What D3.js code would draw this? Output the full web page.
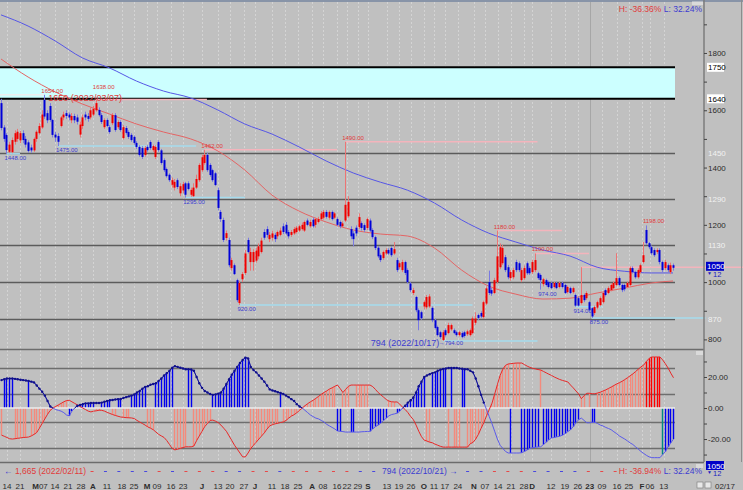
<!DOCTYPE html>
<html>
<head>
<meta charset="utf-8">
<script src="https://cdn.jsdelivr.net/npm/d3@7"></script>
<style>
  body { margin: 0; background: #c0c0c0; }
  svg { display: block; }
  text { font-family: "Liberation Sans", Arial, sans-serif; }
</style>
</head>
<body>
<div id="chart-area"></div>
<script>
// daily bars 2022/02/09 - 2023/02/17 : [open, high, low, close]
const candles = [
  [1625,1640,1530,1538],[1540,1548,1490,1500],[1514,1520,1448,1461],[1455,1490,1450,1480],[1454,1505,1450,1496],
  [1490,1530,1480,1520],[1500,1535,1490,1525],[1495,1528,1485,1520],[1520,1530,1485,1496],[1500,1510,1470,1480],
  [1488,1495,1452,1458],[1470,1480,1452,1460],[1460,1505,1455,1500],[1500,1530,1490,1525],[1520,1555,1515,1545],
  [1540,1600,1535,1585],[1636,1654,1570,1578],[1590,1600,1555,1565],[1615,1625,1560,1566],[1566,1570,1505,1514],
  [1515,1525,1490,1505],[1510,1520,1475,1490],[1545,1580,1540,1575],[1575,1595,1565,1585],[1590,1600,1570,1580],
  [1585,1592,1565,1575],[1565,1590,1555,1580],[1580,1588,1555,1565],[1575,1585,1550,1560],[1515,1560,1505,1550],
  [1545,1585,1535,1575],[1585,1595,1565,1575],[1580,1590,1560,1570],[1575,1610,1568,1600],[1585,1615,1580,1605],
  [1600,1638,1595,1625],[1601,1610,1578,1583],[1583,1590,1552,1559],[1541,1572,1535,1566],[1566,1572,1540,1545],
  [1541,1548,1518,1524],[1555,1590,1548,1583],[1583,1590,1525,1531],[1541,1565,1535,1559],[1559,1565,1525,1531],
  [1503,1548,1498,1541],[1538,1545,1515,1521],[1524,1530,1500,1507],[1514,1520,1490,1496],[1507,1512,1480,1486],
  [1486,1492,1465,1472],[1472,1478,1438,1444],[1468,1475,1430,1437],[1444,1475,1438,1468],[1472,1478,1455,1461],
  [1489,1495,1462,1468],[1461,1480,1455,1475],[1437,1478,1430,1472],[1489,1495,1455,1461],[1460,1465,1410,1416],
  [1426,1432,1385,1391],[1395,1400,1365,1370],[1375,1380,1350,1356],[1340,1365,1330,1356],[1330,1360,1320,1350],
  [1356,1362,1325,1332],[1310,1345,1300,1335],[1320,1350,1310,1342],[1345,1350,1295,1305],[1345,1352,1320,1325],
  [1305,1330,1298,1322],[1300,1345,1298,1330],[1330,1375,1325,1360],[1356,1415,1350,1409],[1391,1445,1385,1436],
  [1416,1462,1410,1444],[1444,1452,1385,1391],[1409,1415,1368,1374],[1391,1396,1350,1356],[1380,1385,1335,1339],
  [1321,1330,1250,1259],[1245,1252,1210,1220],[1217,1225,1140,1147],[1154,1180,1145,1171],[1147,1155,1052,1059],
  [1049,1085,1040,1077],[1059,1065,1025,1028],[1007,1012,930,937],[927,1005,920,997],[1010,1035,1000,1028],
  [1032,1112,1025,1100],[1147,1155,1100,1105],[1070,1120,1040,1105],[1070,1115,1040,1105],[1075,1120,1068,1110],
  [1090,1135,1080,1125],[1105,1155,1100,1145],[1175,1185,1148,1155],[1185,1195,1155,1165],[1150,1175,1140,1165],
  [1155,1180,1145,1170],[1165,1172,1140,1150],[1160,1180,1150,1175],[1165,1190,1160,1180],[1195,1205,1168,1175],
  [1200,1210,1165,1170],[1175,1182,1152,1160],[1165,1182,1158,1175],[1170,1192,1165,1185],[1175,1196,1170,1190],
  [1180,1200,1175,1195],[1185,1208,1180,1200],[1180,1215,1175,1210],[1215,1222,1195,1200],[1195,1218,1190,1210],
  [1218,1225,1190,1195],[1200,1225,1190,1220],[1210,1228,1205,1220],[1220,1248,1215,1240],[1225,1252,1218,1245],
  [1245,1252,1222,1228],[1225,1250,1218,1245],[1245,1250,1215,1220],[1225,1245,1220,1240],[1220,1226,1195,1200],
  [1210,1215,1188,1195],[1195,1212,1190,1205],[1215,1490,1210,1270],[1230,1300,1225,1280],[1185,1195,1150,1160],
  [1170,1178,1125,1150],[1190,1198,1160,1170],[1192,1240,1185,1227],[1206,1212,1180,1189],[1199,1205,1175,1182],
  [1189,1225,1182,1220],[1215,1222,1175,1180],[1182,1188,1150,1157],[1157,1162,1112,1119],[1120,1126,1084,1090],
  [1094,1100,1070,1077],[1084,1110,1078,1105],[1100,1118,1095,1112],[1112,1118,1095,1100],[1119,1125,1088,1094],
  [1100,1140,1095,1115],[1077,1085,1035,1042],[1052,1072,1045,1066],[1042,1078,1035,1070],[1070,1075,1025,1032],
  [1042,1048,995,1000],[995,1000,965,972],[962,980,955,972],[948,952,895,902],[902,908,832,867],
  [895,900,868,874],[915,935,905,930],[912,955,905,948],[915,958,910,950],[910,915,860,867],
  [867,872,835,840],[843,848,810,815],[825,830,802,808],[798,832,794,825],[832,838,810,815],
  [822,858,818,850],[835,855,830,850],[832,838,818,822],[825,830,810,815],[815,830,810,825],
  [822,828,804,808],[825,830,806,812],[818,834,812,828],[815,838,810,832],[822,880,818,873],
  [858,895,850,873],[885,890,868,875],[892,898,875,880],[878,935,872,930],[925,985,920,978],
  [1000,1040,955,962],[972,980,952,960],[962,1015,958,1007],[1000,1180,995,1090],[1052,1135,1045,1122],
  [1066,1130,1060,1119],[1087,1095,1035,1042],[1052,1060,1010,1017],[1014,1042,1005,1035],[1017,1050,1010,1042],
  [1070,1078,1035,1042],[1066,1072,1035,1042],[1007,1050,1000,1042],[1014,1058,1008,1049],[1066,1072,1025,1031],
  [1049,1055,1025,1031],[1035,1078,1028,1070],[1042,1100,1035,1077],[1031,1036,1008,1014],[1025,1030,974,1007],
  [993,1015,985,1010],[1007,1012,985,990],[1000,1005,978,983],[997,1002,975,979],[983,1002,978,997],
  [997,1002,975,979],[983,1002,978,997],[997,1002,978,983],[990,995,958,962],[965,988,960,983],
  [979,984,958,962],[965,984,960,979],[955,960,914,918],[944,950,915,918],[927,1052,922,955],
  [955,960,930,937],[944,968,938,962],[930,935,898,902],[909,912,875,880],[892,918,885,913],
  [911,935,905,930],[920,950,915,944],[930,968,925,962],[972,978,950,955],[962,985,958,979],
  [972,995,968,990],[979,1002,975,997],[990,1101,985,1014],[1014,1020,985,990],[990,995,965,972],
  [990,995,968,975],[983,1002,978,997],[990,1055,985,1049],[1049,1055,1030,1035],[1035,1040,1012,1017],
  [1017,1048,1012,1042],[1035,1065,1030,1059],[1070,1140,1065,1094],[1182,1198,1130,1136],[1136,1140,1115,1122],
  [1122,1128,1095,1101],[1112,1118,1088,1094],[1105,1118,1098,1112],[1112,1118,1062,1070],[1070,1075,1035,1042],
  [1049,1078,1042,1070],[1059,1065,1035,1042],[1035,1068,1028,1059],[1059,1065,1040,1050]
];

// moving averages read every 10 bars
const maIdx = [0,10,20,30,40,50,60,70,80,90,100,110,120,130,140,150,160,170,180,190,200,210,220,230,240,248];
const redMA = [1779,1716,1664,1622,1587,1552,1524,1500,1458,1391,1304,1248,1210,1182,1168,1161,1119,1042,986,958,941,944,962,979,997,1004];
const blueMA = [1933,1894,1842,1783,1748,1702,1667,1643,1601,1552,1517,1472,1423,1381,1349,1321,1276,1217,1171,1140,1112,1091,1052,1038,1032,1032];

// lower panel oscillator
const oscBlue = [
  18,18.5,19,19,19,18.8,18.5,18.2,18,17.7,
  17.4,17,16.5,14.5,12.5,10.5,8,4.5,1,0,
  -1,-1.5,-2,-3,-4.5,-5,-2,0,1.5,2,
  2.5,3,3,3.2,3.2,3.2,3.2,3.5,4,4.5,
  5,5.2,5.5,5.7,5.8,6.5,7,7.5,8,8.7,
  10,11,12.5,13.5,14,15,15.5,16,17.5,19,
  21,22.5,24,26,27,26.5,26,25.5,25,25,
  24.8,24,20,16,13,11,10,9,8.5,8.8,
  9.3,10,12.5,15.5,18.5,21.5,24,26.5,29,31,
  32.5,32,26.5,24.5,23,21,19,17,14.5,12,
  11.3,10.8,10.2,9.7,9,8,7,5.7,4.5,2.5,
  1,0,-1.5,-3,-4.5,-5.5,-6.5,-7,-8,-9,
  -10.5,-11.5,-12.5,-13.5,-14.8,-15,-15.2,-15.5,-15.5,-15.5,
  -15.5,-15.5,-15.5,-15.3,-15.2,-15.1,-15,-13.5,-12,-11,
  -9.7,-8,-6.5,-5,-4.2,-3.8,-3.3,-2,0,1.5,
  3.5,5,6.8,10,14,17,20,21,21.8,22.5,
  23,24,24.7,25.2,25.5,25.8,25.8,25.8,25.8,25.5,
  25.3,25,25,24,23,19,14,8.5,3.5,-1,
  -5.5,-10,-15,-20,-24,-26,-28,-29,-29,-29,
  -29,-29,-28.8,-28,-27,-26,-25.6,-25.3,-25.1,-25,
  -23.5,-22,-20.5,-19.3,-19,-18.6,-18.2,-17.5,-16.5,-15.2,
  -14,-12,-9.5,-7.5,-6.5,-8,-9.5,-9.5,-9.2,-9.2,
  -10,-11,-11.6,-12.5,-13.2,-14,-15.3,-16.5,-18,-19,
  -20,-21.2,-22.5,-23.5,-25,-26.5,-28,-29.3,-30.5,-31.5,
  -32,-32,-32,-32,-30,-28,-25,-22.5,-20
];
const oscRed = [
  -17.5,-18.2,-19,-19.8,-20,-19.8,-19.5,-19.3,-19,-18.9,
  -18.7,-18,-17,-15.8,-13,-10,-7,-4,-1.5,0,
  1,2,3,4,4.8,5,4,3,2,1,
  0,-1,-2,-2.5,-2,-1.8,-1.4,-1.5,-2,-2.8,
  -3.5,-4.2,-4.8,-5.3,-5.8,-6,-6.2,-6.3,-6.4,-6.8,
  -8,-9,-10,-11,-12.2,-13,-14,-15.5,-17,-18,
  -19,-21,-23.5,-26,-27,-26.5,-26,-25.5,-25,-25,
  -25,-24.5,-21,-18,-15,-12,-10,-8,-7.8,-8.5,
  -9.5,-11,-13,-15,-18,-21,-24,-26.5,-29,-31.5,
  -31.5,-29,-26,-24,-22,-20,-18,-16,-13.5,-11.5,
  -10.7,-10.2,-9.8,-9.3,-9,-8,-6.5,-5.2,-4.3,-3,
  -1.5,0,1.5,2.8,4,5,6.2,7.5,8.8,10,
  11,12.2,13,14,14.8,12.5,10,12,14,14.8,
  14.8,14.8,14.8,14.8,14.8,14.8,14.8,13.8,12,10,
  8.5,7,5.5,4.5,4,3.9,3.9,2.5,0.5,-1,
  -3,-5.5,-7.5,-11,-15,-18.5,-20.7,-21.3,-22,-22.4,
  -23.3,-24,-24.7,-25.2,-25.2,-25.2,-25.2,-25.2,-25.2,-25.2,
  -25.2,-25.2,-25.2,-23,-22.2,-20,-17,-13,-9.5,-5,
  -1,3,9,15,21,25,27.5,28.4,28.6,28.8,
  29,29,29,28,27,26.2,25.6,25.2,24.8,24.5,
  23.6,22.7,21.8,21,20,19.2,18.4,17.8,17.3,16.8,
  14.8,13,11,9,6,8,9.5,9.5,9.2,9.2,
  9.7,10.2,11,11.7,12.6,13.5,14.5,15.5,16.3,17.2,
  18.3,19.5,20.8,22,23.5,25,26.5,27.7,30,32,
  32.9,32.9,32.9,32.9,31,28.5,25.8,22.5,19.5
];
// which bar is shown each day: b blue, r salmon, R red, t teal, . none
const barRuns = [["r",1],["b",4],["r",5],["b",1],["r",14],["b",10],["r",2],["b",4],["r",2],["b",2],
  ["r",3],["b",6],["r",3],["b",7],["r",5],["b",2],["r",7],["b",14],["r",11],["b",1],["r",20],
  ["b",2],["r",3],["b",2],["r",5],["b",7],["r",3],["b",11],["r",2],["b",6],["r",1],["b",1],
  ["r",3],["b",2],["r",16],["b",1],["r",3],["b",7],["r",1],["b",14],["r",2],[".",1],["r",1],
  ["b",2],["r",18],["R",6],["t",1],["b",4]];

const tickLabels = ["14","21","M07","14","21","28","A","11","18","25","M","09","16","23","J","13","20","27",
  "J","11","18","25","A","08","16","22","29","S","13","19","26","O","11","17","24","N","07","14","21","28",
  "D","12","19","26","23","09","16","25","F","06","13"];
const tickIdx = [2.2,7,14.4,19.9,24.7,29.5,33.9,39.1,44.6,49.1,53.9,57.6,62.7,67.2,74.2,80.1,84.5,89.7,
  93.7,100,104.8,109.6,114.8,118.8,124,127.7,131.7,135.4,142.4,146.9,151.3,156.1,159.8,163.8,168.6,
  174.5,178.6,183.4,188.2,193,196,203,208.1,212.9,217.3,221.8,227.3,231.7,236.5,239.5,244.6];

const band = [1640, 1750];
const levels = [1450, 1290, 1130, 1000, 870];
const levelText = ["1450", "1290", "1130", "870"];
const oscLevels = [26, 9, -9, -26];
// [bar, price, line end bar]
const highMarks = [[16,1654,null],[35,1638,76],[75,1462,124],[127,1490,198],[183,1180,207],[197,1100,217],[238,1198,null]];
const lowMarks = [[2,1448,7],[21,1475,72],[68,1295,90],[88,920,174],[163,794,198],[199,974,null],[212,914,222],[218,875,260]];
const dashColors = "rbbbbrbrrrbbrrbrrrrrbb......bbrrrbbbbrrr";
const lastPrice = 1050;

const W = 743, H = 490, axisX = 704, lineEnd = 675;
const svg = d3.select("#chart-area").append("svg").attr("width", W).attr("height", H);
svg.append("rect").attr("width", W).attr("height", H).attr("fill", "#c0c0c0");

const N = candles.length;
const x = d3.scaleLinear().domain([0, N - 1]).range([1, 673]);
const y = d3.scaleLinear().domain([763, 1978]).range([350, 2]);
const yo = d3.scaleLinear().domain([-34.8, 37.4]).range([462, 350]);
const px = i => Math.round(x(i)) + 0.5;

// vertical grid
svg.append("g").selectAll("line").data(tickIdx).join("line")
  .attr("x1", d => px(d)).attr("x2", d => px(d))
  .attr("y1", 2).attr("y2", 462)
  .attr("stroke", (d, i) => i === 44 ? "#a6a6a6" : "#d4d4d4")
  .attr("stroke-dasharray", (d, i) => i === 44 ? null : "2,2");

// resistance band
svg.append("rect").attr("x", 0).attr("width", lineEnd)
  .attr("y", y(band[1])).attr("height", y(band[0]) - y(band[1])).attr("fill", "#ccffff");
svg.append("g").selectAll("line").data(band).join("line")
  .attr("x1", 0).attr("x2", lineEnd).attr("y1", d => y(d)).attr("y2", d => y(d))
  .attr("stroke", "#000").attr("stroke-width", 2);

svg.append("g").selectAll("line").data(levels).join("line")
  .attr("x1", 0).attr("x2", lineEnd).attr("y1", d => Math.round(y(d)) + 0.5).attr("y2", d => Math.round(y(d)) + 0.5)
  .attr("stroke", "#5c5c5c").attr("stroke-width", 1.5);

// high / low reference lines
const refG = svg.append("g");
refG.append("line").attr("x1", 0).attr("x2", x(16)).attr("y1", y(1654)).attr("y2", y(1654))
  .attr("stroke", "#eeeeee").attr("stroke-width", 1.5);
refG.selectAll("line.h").data(highMarks.filter(d => d[2] !== null)).join("line").attr("class", "h")
  .attr("x1", d => x(d[0])).attr("x2", d => x(d[2])).attr("y1", d => y(d[1])).attr("y2", d => y(d[1]))
  .attr("stroke", "#f4b4bc").attr("stroke-width", 1.5);
refG.selectAll("line.l").data(lowMarks.filter(d => d[2] !== null)).join("line").attr("class", "l")
  .attr("x1", d => x(d[0])).attr("x2", d => Math.min(W, x(d[2]))).attr("y1", d => y(d[1])).attr("y2", d => y(d[1]))
  .attr("stroke", "#a6dcee").attr("stroke-width", 1.5);
refG.append("line").attr("x1", x(214)).attr("x2", W).attr("y1", y(1052)).attr("y2", y(1052))
  .attr("stroke", "#f4b4bc").attr("stroke-width", 1.5);

// moving averages
const maLine = d3.line().x((d, i) => x(maIdx[i])).y(d => y(d)).curve(d3.curveMonotoneX);
svg.append("path").attr("d", maLine(redMA)).attr("fill", "none").attr("stroke", "#e46464").attr("stroke-width", 1);
svg.append("path").attr("d", maLine(blueMA)).attr("fill", "none").attr("stroke", "#5656e6").attr("stroke-width", 1);

// candles
const cg = svg.append("g");
cg.selectAll("line").data(candles).join("line")
  .attr("x1", (d, i) => px(i)).attr("x2", (d, i) => px(i))
  .attr("y1", d => y(d[1])).attr("y2", d => y(d[2]))
  .attr("stroke", d => d[3] >= d[0] ? "#ec7474" : "#7a7ae2").attr("stroke-width", 1);
cg.selectAll("rect").data(candles).join("rect")
  .attr("x", (d, i) => Math.round(x(i)) - 0.5).attr("width", 2)
  .attr("y", d => y(Math.max(d[0], d[3])))
  .attr("height", d => Math.max(1, Math.abs(y(d[0]) - y(d[3]))))
  .attr("fill", d => d[3] >= d[0] ? "#f00000" : "#0000d8");

// value labels
const small = "6px";
svg.append("g").selectAll("text").data(highMarks).join("text")
  .attr("x", d => x(d[0]) - 3).attr("y", d => y(d[1]) - (d[0] === 35 ? 10 : 2))
  .attr("font-size", small).attr("fill", "#e03a3a").text(d => d[1].toFixed(2));
svg.append("g").selectAll("text").data(lowMarks.filter(d => d[1] !== 794)).join("text")
  .attr("x", d => x(d[0]) - 2).attr("y", d => y(d[1]) + 6)
  .attr("font-size", small).attr("fill", "#3c3cd0").text(d => d[1].toFixed(2));
svg.append("text").attr("x", x(16) + 4).attr("y", y(1654) + 6).attr("font-size", "9px").attr("fill", "#e03a3a")
  .text("1650 (2022/03/07)");
svg.append("text").attr("x", x(163) - 72).attr("y", y(794) + 5).attr("font-size", "9px").attr("fill", "#3c3cd0")
  .text("794 (2022/10/17)");
svg.append("text").attr("x", x(163) - 4).attr("y", y(794) + 4).attr("font-size", small).attr("fill", "#3c3cd0")
  .text("\u2192794.00");

// panel frames
svg.append("line").attr("x1", 0).attr("x2", W).attr("y1", 1).attr("y2", 1).attr("stroke", "#8894a8").attr("stroke-width", 2);
svg.append("line").attr("x1", 0).attr("x2", axisX).attr("y1", 349.5).attr("y2", 349.5).attr("stroke", "#6c6c6c").attr("stroke-width", 1.5);
svg.append("line").attr("x1", 0).attr("x2", axisX).attr("y1", 462.5).attr("y2", 462.5).attr("stroke", "#6c6c6c").attr("stroke-width", 1.5);
svg.append("line").attr("x1", axisX).attr("x2", axisX).attr("y1", 0).attr("y2", 462).attr("stroke", "#7c7c7c").attr("stroke-width", 1.5);
svg.append("line").attr("x1", 741.5).attr("x2", 741.5).attr("y1", 0).attr("y2", 462).attr("stroke", "#8c8c8c").attr("stroke-width", 1);

// oscillator
svg.append("g").selectAll("line").data(oscLevels).join("line")
  .attr("x1", 0).attr("x2", lineEnd).attr("y1", d => Math.round(yo(d)) + 0.5).attr("y2", d => Math.round(yo(d)) + 0.5)
  .attr("stroke", "#6e6e6e").attr("stroke-width", 1.5);

const flags = barRuns.flatMap(([f, n]) => Array(n).fill(f));
const barColor = { b: "#0000f0", r: "#f48a7c", R: "#ff0000", t: "#008a80" };
const bars = flags.map((f, i) => ({ i, f, v: (f === "b" || f === "t") ? oscBlue[i] : oscRed[i] })).filter(d => d.f !== ".");
svg.append("g").selectAll("rect").data(bars).join("rect")
  .attr("x", d => Math.round(x(d.i)) - 0.2).attr("width", 1.4)
  .attr("y", d => Math.min(yo(0), yo(d.v))).attr("height", d => Math.abs(yo(0) - yo(d.v)))
  .attr("fill", d => barColor[d.f]);

svg.append("line").attr("x1", 0).attr("x2", lineEnd).attr("y1", yo(0)).attr("y2", yo(0))
  .attr("stroke", "#ececec").attr("stroke-width", 1.5);

const oLine = d3.line().x((d, i) => x(i) + 0.5).y(d => yo(d));
svg.append("path").attr("d", oLine(oscRed)).attr("fill", "none").attr("stroke", "#e82828").attr("stroke-width", 1);
svg.append("path").attr("d", oLine(oscBlue)).attr("fill", "none").attr("stroke", "#5a5aea").attr("stroke-width", 1);
svg.append("path").attr("d", oLine.defined(d => d >= 0)(oscBlue)).attr("fill", "none").attr("stroke", "#10108a").attr("stroke-width", 1);
svg.append("g").selectAll("circle").data(oscBlue.map((v, i) => ({ v, i })).filter(d => d.v > 0.5)).join("circle")
  .attr("cx", d => x(d.i) + 0.5).attr("cy", d => yo(d.v)).attr("r", 1.2).attr("fill", "#10108a");

// right price axis
const yAxis = d3.axisRight(y).tickValues(d3.range(800, 2000, 100)).tickSize(3).tickPadding(1)
  .tickFormat(d => d % 200 === 0 ? d : "");
const ya = svg.append("g").attr("transform", `translate(${axisX},0)`).call(yAxis);
ya.select(".domain").remove();
ya.selectAll("line").attr("stroke", "#444");
ya.selectAll("text").attr("font-size", "8px").attr("fill", "#2c2c2c").attr("font-family", "Liberation Sans, Arial");

const oAxis = d3.axisRight(yo).tickValues([-30, -20, -10, 0, 10, 20, 30]).tickSize(3).tickPadding(1)
  .tickFormat(d => d % 20 === 0 ? d.toFixed(2) : "");
const oa = svg.append("g").attr("transform", `translate(${axisX},0)`).call(oAxis);
oa.select(".domain").remove();
oa.selectAll("line").attr("stroke", "#444");
oa.selectAll("text").attr("font-size", "8px").attr("fill", "#2c2c2c").attr("font-family", "Liberation Sans, Arial");

// level labels at the axis
band.forEach(v => {
  svg.append("rect").attr("x", 707).attr("y", y(v) - 4.5).attr("width", 17).attr("height", 9).attr("fill", "#fff");
  svg.append("text").attr("x", 708).attr("y", y(v) + 3).attr("font-size", "8px").attr("fill", "#000").text(v);
});
svg.append("g").selectAll("text").data(levelText).join("text")
  .attr("x", 708).attr("y", d => y(+d) + 3).attr("font-size", "8px").attr("fill", "#f2f2f2").text(d => d);

function priceTag(cy) {
  svg.append("rect").attr("x", 706).attr("y", cy - 5).attr("width", 18).attr("height", 9).attr("fill", "#0000c8");
  svg.append("text").attr("x", 707).attr("y", cy + 2.5).attr("font-size", "8px").attr("fill", "#fff").text(lastPrice);
  svg.append("text").attr("x", 707).attr("y", cy + 8).attr("font-size", "5px").attr("fill", "#2020c0").text("\u25BC");
  svg.append("text").attr("x", 713).attr("y", cy + 10).attr("font-size", "7.5px").attr("fill", "#2020c0").text("12");
}
priceTag(y(lastPrice) - 1);
priceTag(466);

// top and bottom notes
const hl = (yy, h) => {
  const t = svg.append("text").attr("x", 702).attr("y", yy).attr("font-size", "8.5px").attr("text-anchor", "end");
  t.append("tspan").attr("fill", "#e03a3a").text("H: " + h + "  ");
  t.append("tspan").attr("fill", "#3c3cd0").text("L: 32.24%");
};
hl(12, "-36.36%");
hl(473.5, "-36.94%");
svg.append("rect").attr("x", 692).attr("y", 1.5).attr("width", 11).attr("height", 3.5).attr("fill", "#dadada");
svg.append("rect").attr("x", 696).attr("y", 351).attr("width", 7).attr("height", 4).attr("fill", "#dadada");
svg.append("rect").attr("x", 696).attr("y", 464).attr("width", 7).attr("height", 4).attr("fill", "#dadada");

const note = svg.append("text").attr("x", 4).attr("y", 473.5).attr("font-size", "8.5px");
note.append("tspan").attr("fill", "#3c3cd0").text("\u2190 ");
note.append("tspan").attr("fill", "#e03a3a").text("1,665 (2022/02/11)");
svg.append("text").attr("x", 382).attr("y", 473.5).attr("font-size", "8.5px").attr("fill", "#3c3cd0").text("794 (2022/10/21) \u2192");

const dashIdx = d3.range(dashColors.length).map(k => 33.6 + k * 4.95);
svg.append("g").selectAll("line").data(dashIdx.filter((d, k) => dashColors[k] !== ".")).join("line")
  .attr("x1", d => x(d) - 1.5).attr("x2", d => x(d) + 1.5).attr("y1", 471.5).attr("y2", 471.5)
  .attr("stroke", d => dashColors[dashIdx.indexOf(d)] === "r" ? "#e84848" : "#4848e0").attr("stroke-width", 1);

// date axis
const xl = svg.append("g").selectAll("text").data(tickIdx).join("text")
  .attr("x", d => x(d)).attr("y", 488.5).attr("text-anchor", "middle")
  .attr("font-size", "8px").attr("fill", "#2c2c2c")
  .attr("font-weight", (d, i) => /^[A-Z]$/.test(tickLabels[i]) || i === 44 ? "bold" : null);
xl.each(function (d, i) {
  const s = tickLabels[i];
  if (s === "M07") {
    d3.select(this).append("tspan").attr("font-weight", "bold").text("M");
    d3.select(this).append("tspan").text("07");
  } else {
    d3.select(this).text(s);
  }
});
svg.append("text").attr("x", 735).attr("y", 488.5).attr("text-anchor", "end").attr("font-size", "8px").attr("fill", "#2c2c2c").text("02/17");
[697, 705].forEach(ix => {
  svg.append("rect").attr("x", ix).attr("y", 482).attr("width", 6).attr("height", 6).attr("fill", "#e8e8e8").attr("stroke", "#777").attr("stroke-width", 0.6);
});
</script>
</body>
</html>
